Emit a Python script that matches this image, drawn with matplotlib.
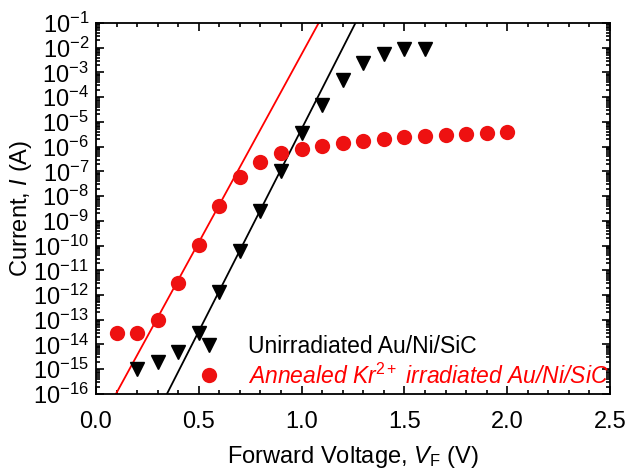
import numpy as np
import matplotlib
matplotlib.use("Agg")
import matplotlib.pyplot as plt
from matplotlib.ticker import MultipleLocator, LogLocator, NullFormatter

plt.rcParams["font.family"] = ["Liberation Sans", "DejaVu Sans"]
plt.rcParams["mathtext.fontset"] = "custom"
plt.rcParams["mathtext.rm"] = "Liberation Sans"
plt.rcParams["mathtext.it"] = "Liberation Sans:italic"

# unirradiated Au/Ni/SiC (black triangles)
v_unirr = [0.2, 0.3, 0.4, 0.5, 0.6, 0.7, 0.8, 0.9, 1.0, 1.1, 1.2, 1.3, 1.4, 1.5, 1.6]
i_unirr = [1.0e-15, 2.0e-15, 5.0e-15, 3.0e-14, 1.3e-12, 6.0e-11, 2.5e-9, 1.0e-7,
           3.5e-6, 5.0e-5, 5.0e-4, 2.5e-3, 5.6e-3, 9.0e-3, 9.0e-3]

# annealed Kr2+ irradiated Au/Ni/SiC (red circles)
v_ann = [0.1, 0.2, 0.3, 0.4, 0.5, 0.6, 0.7, 0.8, 0.9, 1.0, 1.1, 1.2, 1.3, 1.4,
         1.5, 1.6, 1.7, 1.8, 1.9, 2.0]
i_ann = [3.0e-14, 3.0e-14, 1.0e-13, 3.0e-12, 1.1e-10, 4.0e-9, 6.0e-8, 2.5e-7, 5.4e-7,
         7.9e-7, 1.05e-6, 1.4e-6, 1.7e-6, 2.0e-6, 2.4e-6, 2.7e-6, 2.9e-6, 3.2e-6,
         3.5e-6, 3.9e-6]

# linear fits (end points of the straight lines on the log plot)
fit_unirr_v = [0.345, 1.262]
fit_unirr_i = [1e-16, 1e-1]
fit_ann_v = [0.097, 1.083]
fit_ann_i = [1e-16, 1e-1]

decades = list(range(-16, 0))

fig = plt.figure(figsize=(6.29, 4.69), dpi=100)
ax = fig.add_axes([0.1526, 0.16, 0.8172, 0.791])

ax.plot(fit_ann_v, fit_ann_i, color="#ff0000", lw=1.3)
ax.plot(fit_unirr_v, fit_unirr_i, color="black", lw=1.3)
ax.plot(v_unirr, i_unirr, "v", color="black", ms=10, ls="none",
        label="Unirradiated Au/Ni/SiC")
ax.plot(v_ann, i_ann, "o", color="#ee1111", ms=11, ls="none", mec="none",
        label="Annealed Kr$^{2+}$ irradiated Au/Ni/SiC")

ax.set_yscale("log")
ax.set_xlim(0, 2.5)
ax.set_ylim(1e-16, 1e-1)

ax.xaxis.set_major_locator(MultipleLocator(0.5))
ax.xaxis.set_minor_locator(MultipleLocator(0.1))
ax.set_yticks([10.0 ** d for d in decades])
ax.set_yticklabels([f"10$^{{{d}}}$" for d in decades])
ax.yaxis.set_minor_locator(LogLocator(base=10, subs=np.arange(2, 10), numticks=100))
ax.yaxis.set_minor_formatter(NullFormatter())

ax.tick_params(which="both", direction="in", top=True, right=True, width=1.2)
ax.tick_params(which="major", length=6)
ax.tick_params(which="minor", length=3)
ax.tick_params(axis="x", which="major", labelsize=17, pad=12)
ax.tick_params(axis="y", which="major", labelsize=17, pad=5)
for sp in ax.spines.values():
    sp.set_linewidth(1.3)

ax.set_xlabel("Forward Voltage, $\\it{V}_{\\rm F}$ (V)", fontsize=17, labelpad=8)
ax.set_ylabel("Current, $\\it{I}$ (A)", fontsize=17, labelpad=-1)

leg = ax.legend(loc="lower left", bbox_to_anchor=(0.176, -0.01), frameon=False,
                fontsize=16.5, handletextpad=1.1, handlelength=1.2,
                labelspacing=0.25, borderaxespad=0)
for txt, c in zip(leg.get_texts(), ["black", "#ff0000"]):
    txt.set_color(c)
leg.get_texts()[1].set_style("italic")

fig.savefig("out.png", dpi=100)
